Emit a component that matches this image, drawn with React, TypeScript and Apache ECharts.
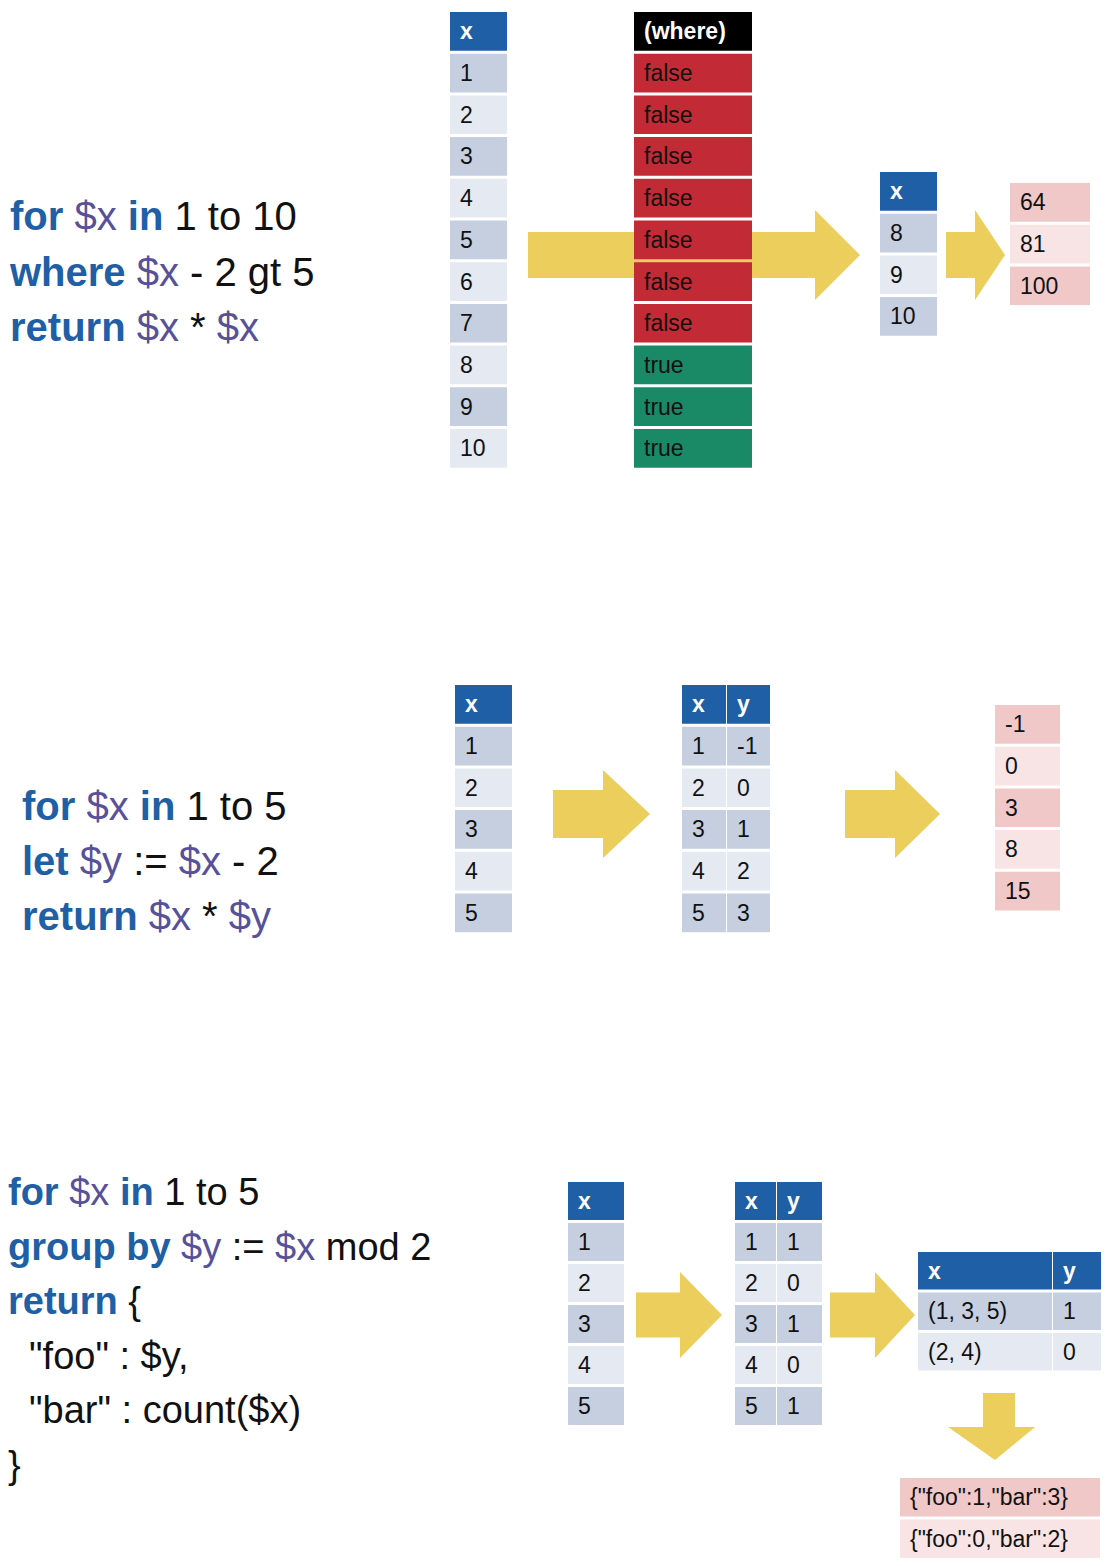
import { useRef, useEffect } from "react";
import * as echarts from "echarts";

// table contents
const whereX = ["1", "2", "3", "4", "5", "6", "7", "8", "9", "10"];
const whereFlags = ["false", "false", "false", "false", "false", "false", "false", "true", "true", "true"];
const whereKept = ["8", "9", "10"];
const whereResult = ["64", "81", "100"];

const letX = ["1", "2", "3", "4", "5"];
const letY = ["-1", "0", "1", "2", "3"];
const letResult = ["-1", "0", "3", "8", "15"];

const groupX = ["1", "2", "3", "4", "5"];
const groupY = ["1", "0", "1", "0", "1"];
const groupedX = ["(1, 3, 5)", "(2, 4)"];
const groupedY = ["1", "0"];
const groupResult = ['{"foo":1,"bar":3}', '{"foo":0,"bar":2}'];

const code1 = ["{k|for} {v|$x} {k|in} 1 to 10", "{k|where} {v|$x} - 2 gt 5", "{k|return} {v|$x} * {v|$x}"];
const code2 = ["{k|for} {v|$x} {k|in} 1 to 5", "{k|let} {v|$y} := {v|$x} - 2", "{k|return} {v|$x} * {v|$y}"];
const code3 = [
  "{k|for} {v|$x} {k|in} 1 to 5",
  "{k|group by} {v|$y} := {v|$x} mod 2",
  "{k|return} {",
  '  "foo" : $y,',
  '  "bar" : count($x)',
  "}",
];

const BLUE = "#1f5fa6";
const ROW_A = "#c6cfe0";
const ROW_B = "#e5e9f2";
const PINK_A = "#f0c8c8";
const PINK_B = "#f8e4e4";
const FONT = "Liberation Sans, Arial, sans-serif";

function cell(x: number, y: number, w: number, h: number, fill: string, text: string, color = "#111", bold = false): any[] {
  return [
    { type: "rect", shape: { x, y, width: w, height: h }, style: { fill } },
    {
      type: "text",
      x: x + 10,
      y: y + h / 2,
      style: {
        text,
        fill: color,
        font: `${bold ? "bold " : ""}23px ${FONT}`,
        verticalAlign: "middle",
      },
    },
  ];
}

function column(
  x: number,
  top: number,
  w: number,
  pitch: number,
  header: string | null,
  values: string[],
  colorFor: (i: number) => string,
  textColor = "#111",
  headerFill = BLUE,
): any[] {
  const out: any[] = [];
  const h = pitch - 3;
  let y = top;
  if (header !== null) {
    out.push(...cell(x, y, w, h, headerFill, header, "#fff", true));
    y += pitch;
  }
  values.forEach((v, i) => {
    out.push(...cell(x, y + i * pitch, w, h, colorFor(i), v, textColor));
  });
  return out;
}

function rightArrow(x0: number, x1: number, headLen: number, cy: number, shaftH: number, headH: number): any {
  return {
    type: "polygon",
    shape: {
      points: [
        [x0, cy - shaftH / 2],
        [x1 - headLen, cy - shaftH / 2],
        [x1 - headLen, cy - headH / 2],
        [x1, cy],
        [x1 - headLen, cy + headH / 2],
        [x1 - headLen, cy + shaftH / 2],
        [x0, cy + shaftH / 2],
      ],
    },
    style: { fill: "#ecce5c" },
  };
}

function codeBlock(lines: string[], x: number, y0: number, step: number, size: number): any[] {
  return lines.map((t, i) => ({
    type: "text",
    x,
    y: y0 + i * step,
    style: {
      text: t,
      fill: "#111",
      font: `${size}px ${FONT}`,
      verticalAlign: "middle",
      rich: {
        k: { fill: BLUE, fontWeight: "bold", fontSize: size, fontFamily: FONT },
        v: { fill: "#57519a", fontSize: size, fontFamily: FONT },
      },
    },
  }));
}

const alt = (i: number) => (i % 2 === 0 ? ROW_A : ROW_B);
const altPink = (i: number) => (i % 2 === 0 ? PINK_A : PINK_B);

export default function App() {
  const ref = useRef<HTMLDivElement>(null);

  useEffect(() => {
    if (!ref.current) return;
    const chart = echarts.init(ref.current, undefined, { renderer: "svg" });
    const els: any[] = [];

    // section 1
    els.push(...codeBlock(code1, 10, 216, 55.5, 40));
    els.push(rightArrow(528, 860, 45, 255, 46, 90));
    els.push(...column(450, 12, 57, 41.7, "x", whereX, alt));
    els.push(
      ...column(634, 12, 118, 41.7, "(where)", whereFlags, (i) => (whereFlags[i] === "true" ? "#1a8a66" : "#c22a36"), "#111", "#000"),
    );
    els.push(rightArrow(946, 1005, 30, 255, 46, 90));
    els.push(...column(880, 172, 57, 41.7, "x", whereKept, alt));
    els.push(...column(1010, 183, 80, 41.7, null, whereResult, altPink));
    // right-align-ish result numbers: shift handled by padding

    // section 2
    els.push(...codeBlock(code2, 22, 806, 55, 40));
    els.push(...column(455, 685, 57, 41.7, "x", letX, alt));
    els.push(rightArrow(553, 650, 47, 814, 48, 88));
    els.push(...column(682, 685, 44, 41.7, "x", letX, alt));
    els.push(...column(727, 685, 43, 41.7, "y", letY, alt));
    els.push(rightArrow(845, 940, 45, 814, 48, 88));
    els.push(...column(995, 705, 65, 41.7, null, letResult, altPink));

    // section 3
    els.push(...codeBlock(code3, 8, 1192, 54.5, 38));
    els.push(...column(568, 1182, 56, 41, "x", groupX, alt));
    els.push(rightArrow(636, 722, 42, 1315, 45, 86));
    els.push(...column(735, 1182, 41, 41, "x", groupX, alt));
    els.push(...column(777, 1182, 45, 41, "y", groupY, alt));
    els.push(rightArrow(830, 915, 40, 1315, 45, 86));
    els.push(...column(918, 1252, 134, 40.5, "x", groupedX, alt));
    els.push(...column(1053, 1252, 48, 40.5, "y", groupedY, alt));
    els.push({
      type: "polygon",
      shape: {
        points: [
          [983, 1393],
          [1015, 1393],
          [1015, 1427],
          [1035, 1427],
          [995, 1460],
          [948, 1427],
          [983, 1427],
        ],
      },
      style: { fill: "#ecce5c" },
    });
    els.push(...column(900, 1478, 200, 41.5, null, groupResult, altPink));

    chart.setOption({ animation: false, graphic: { elements: els } });
    return () => chart.dispose();
  }, []);

  return <div ref={ref} style={{ position: "absolute", left: 0, top: 0, width: 1107, height: 1566, background: "#fff" }} />;
}
